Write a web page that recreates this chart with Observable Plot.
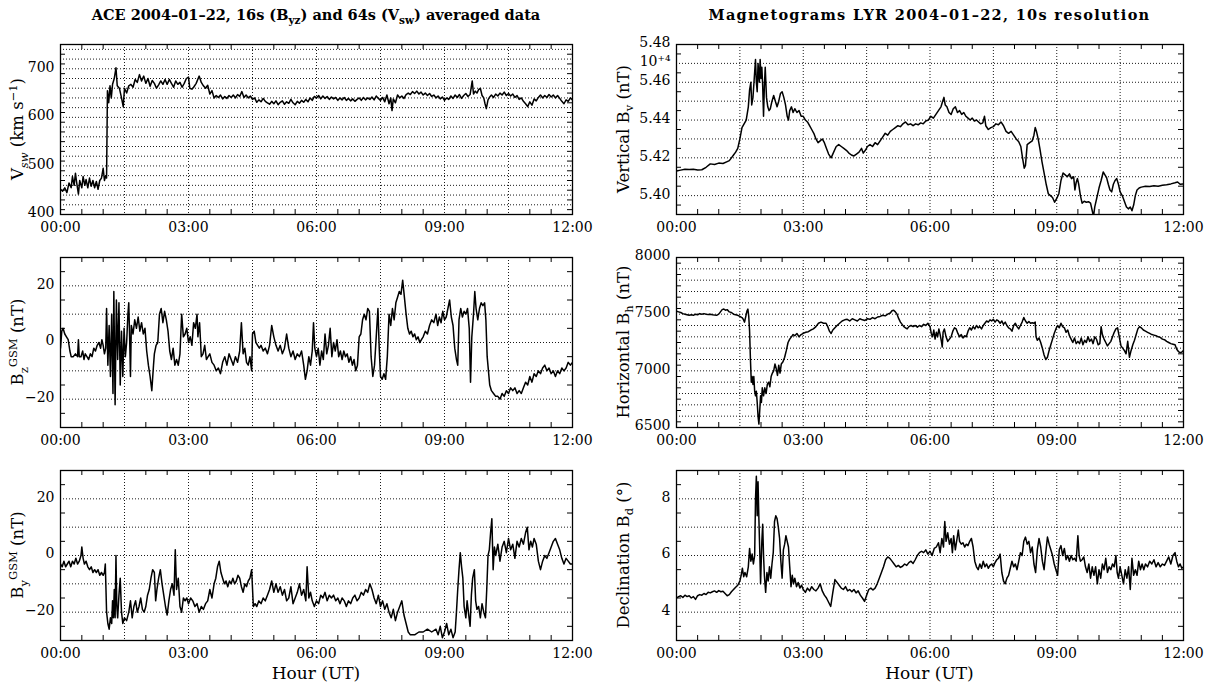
<!DOCTYPE html>
<html><head><meta charset="utf-8">
<script src="https://cdn.jsdelivr.net/npm/d3@7"></script>
<script src="https://cdn.jsdelivr.net/npm/@observablehq/plot@0.6"></script>
<style>
body{margin:0;background:#fff;}
#wrap{position:relative;width:1208px;height:686px;font-family:"DejaVu Serif",serif;color:#000;overflow:hidden;}
.title{position:absolute;top:6px;font-weight:bold;font-size:14.5px;white-space:nowrap;transform:translateX(-50%);}
.title sub{font-size:10.5px;}
.ylab{position:absolute;font-size:16.5px;white-space:nowrap;transform:translate(-50%,-50%) rotate(-90deg);line-height:1;}
.ylab sub,.ylab sup{font-size:11.5px;}
.xlab{position:absolute;font-size:17px;white-space:nowrap;transform:translateX(-50%);top:663px;}
.panel{position:absolute;}
</style></head>
<body>
<div id="wrap"></div>
<script>
// ---------------- data (hour UT, value) ----------------
const vsw = [[0,452],[0.05,448],[0.1,455],[0.15,445],[0.2,465],[0.25,455],[0.28,478],[0.32,460],[0.35,485],[0.38,465],[0.42,442],[0.45,470],[0.5,455],[0.53,478],[0.57,460],[0.6,472],[0.64,455],[0.68,475],[0.72,458],[0.76,470],[0.8,455],[0.84,468],[0.88,452],[0.92,470],[0.96,475],[1,495],[1.03,470],[1.06,480],[1.08,475],[1.1,655],[1.13,630],[1.16,665],[1.19,640],[1.22,668],[1.26,680],[1.3,702],[1.33,665],[1.38,660],[1.43,640],[1.47,622],[1.5,660],[1.55,650],[1.6,665],[1.65,668],[1.7,662],[1.75,678],[1.8,672],[1.85,688],[1.9,675],[1.95,685],[2,670],[2.05,680],[2.1,664],[2.15,676],[2.2,670],[2.25,660],[2.3,667],[2.35,675],[2.4,668],[2.45,678],[2.5,668],[2.55,678],[2.6,670],[2.65,662],[2.7,675],[2.75,668],[2.8,672],[2.85,662],[2.9,670],[2.95,680],[3,683],[3.03,660],[3.08,658],[3.12,662],[3.18,670],[3.25,685],[3.3,672],[3.35,665],[3.4,660],[3.45,666],[3.5,648],[3.55,655],
[3.6,640],[3.65,645],[3.7,641],[3.75,646],[3.8,638],[3.85,643],[3.9,639],[3.95,645],[4,641],[4.05,646],[4.1,640],[4.15,647],[4.2,643],[4.25,653],[4.3,641],[4.35,646],[4.4,640],[4.45,644],[4.5,637],[4.55,640],[4.6,631],[4.65,636],[4.7,632],[4.75,639],[4.8,633],[4.85,630],[4.9,627],[4.95,633],[5,628],[5.05,634],[5.1,626],[5.15,631],[5.2,634],[5.25,627],[5.3,632],[5.35,629],[5.4,637],[5.45,630],[5.5,626],[5.55,633],[5.6,629],[5.65,635],[5.7,631],[5.75,637],[5.8,632],[5.85,640],[5.9,635],[5.95,643],[6,640],[6.05,645],[6.1,638],[6.15,644],[6.2,639],[6.25,643],[6.3,637],[6.35,642],[6.4,638],[6.45,641],[6.5,635],[6.55,640],[6.6,636],[6.65,641],[6.7,635],[6.75,639],[6.8,634],[6.85,638],[6.9,633],[6.95,637],[7,640],[7.05,635],[7.1,641],[7.15,636],[7.2,640],[7.25,637],[7.3,642],[7.35,636],[7.4,644],[7.45,639],[7.5,635],[7.55,641],[7.6,632],[7.65,646],[7.7,628],[7.74,640],[7.77,614],[7.8,638],[7.85,630],[7.9,646],[7.95,640],[8,644],[8.05,639],[8.1,647],[8.15,650],[8.2,647],[8.25,653],[8.3,649],[8.35,654],[8.4,648],[8.45,652],[8.5,646],[8.55,650],[8.6,645],[8.65,649],[8.7,643],[8.75,646],[8.8,640],[8.85,644],[8.9,638],[8.95,642],[9,635],[9.05,640],[9.1,637],[9.15,644],[9.2,639],[9.25,646],[9.3,641],[9.35,647],[9.4,639],[9.45,645],[9.5,649],[9.55,643],[9.6,647],[9.65,675],[9.68,648],[9.72,654],[9.76,650],[9.8,657],[9.84,660],[9.88,645],[9.92,640],[9.95,628],[9.98,618],[10.02,636],[10.06,642],[10.1,646],[10.15,641],[10.2,648],[10.25,644],[10.3,650],[10.35,646],[10.4,652],[10.45,645],[10.5,649],[10.55,644],[10.6,648],[10.65,641],[10.7,645],[10.75,637],[10.8,640],[10.85,633],[10.9,628],[10.95,622],[11,632],[11.05,625],[11.1,638],[11.15,634],[11.2,641],[11.25,646],[11.3,640],[11.35,645],[11.4,641],[11.45,647],[11.5,642],[11.55,646],[11.6,640],[11.65,645],[11.7,639],[11.75,633],[11.8,628],[11.85,636],[11.9,633],[11.95,640],[12,636]];

const bz = [[0,-2],[0.03,4],[0.06,5],[0.1,3],[0.14,2],[0.18,1],[0.22,-3],[0.25,-5],[0.3,-5],[0.35,-4],[0.4,-5],[0.42,1],[0.44,-5],[0.48,-5],[0.52,-3],[0.55,-6],[0.58,-4],[0.62,-5],[0.66,-6],[0.7,-4],[0.74,-5],[0.78,-2],[0.82,-3],[0.86,-1],[0.9,0],[0.94,-2],[0.97,1],[1,-1],[1.03,-4],[1.06,-2],[1.08,12],[1.11,-8],[1.14,6],[1.17,-12],[1.2,10],[1.23,-18],[1.25,18],[1.28,-22],[1.31,15],[1.34,-6],[1.37,14],[1.4,-15],[1.43,4],[1.46,-12],[1.49,5],[1.52,-5],[1.55,0],[1.58,10],[1.6,14],[1.62,2],[1.64,-12],[1.66,6],[1.7,3],[1.74,8],[1.78,5],[1.82,9],[1.86,4],[1.9,7],[1.94,3],[1.98,5],[2.02,-3],[2.06,-8],[2.1,-12],[2.14,-17],[2.18,-8],[2.2,-4],[2.24,-1],[2.28,0],[2.32,10],[2.36,12],[2.4,7],[2.44,11],[2.48,8],[2.52,4],[2.56,-3],[2.6,-6],[2.64,-2],[2.68,-8],[2.72,-6],[2.76,-8],[2.8,-4],[2.84,10],[2.88,2],[2.92,3],[2.96,5],[3,0],[3.04,2],[3.08,-1],[3.12,7],[3.16,5],[3.2,10],[3.22,2],[3.26,7],[3.3,-5],[3.34,-4],[3.38,-1],[3.42,-6],[3.46,-5],[3.5,-4],[3.55,-7],[3.6,-8],[3.65,-10],[3.7,-9],[3.75,-11],[3.8,-7],[3.85,-5],[3.9,-8],[3.95,-4],[4,-6],[4.05,-8],[4.1,-5],[4.15,-7],[4.2,-3],[4.24,7],[4.28,-4],[4.32,-2],[4.36,-7],[4.4,-8],[4.44,-5],[4.48,-10],[4.5,3],[4.54,4],[4.58,0],[4.62,-1],[4.66,-2],[4.7,-1],[4.75,-3],[4.8,-2],[4.85,-4],[4.9,-1],[4.95,6],[5,2],[5.05,-1],[5.1,-3],[5.15,-1],[5.2,-4],[5.25,-2],[5.3,3],[5.35,-2],[5.4,-5],[5.45,-3],[5.5,-6],[5.55,-4],[5.6,-5],[5.65,-3],[5.7,-8],[5.74,-13],[5.78,-10],[5.82,-5],[5.86,-8],[5.9,-3],[5.93,7],[5.96,-2],[6,-5],[6.04,-2],[6.08,-8],[6.12,-3],[6.16,-6],[6.2,3],[6.24,-4],[6.28,-1],[6.32,5],[6.36,-5],[6.4,0],[6.44,-3],[6.48,1],[6.52,-5],[6.56,-3],[6.6,-6],[6.64,-3],[6.68,-5],[6.72,-4],[6.76,-7],[6.8,-5],[6.84,-8],[6.88,-6],[6.92,-10],[6.96,-8],[7,2],[7.04,3],[7.08,8],[7.12,10],[7.16,8],[7.2,12],[7.24,11],[7.28,-5],[7.32,-12],[7.36,-8],[7.4,2],[7.44,12],[7.47,-2],[7.5,-12],[7.54,-13],[7.58,-11],[7.62,-13],[7.66,-5],[7.7,10],[7.74,6],[7.78,12],[7.82,8],[7.86,14],[7.9,16],[7.94,18],[7.98,17],[8.02,22],[8.06,16],[8.1,10],[8.14,5],[8.18,3],[8.22,4],[8.26,2],[8.3,3],[8.34,1],[8.38,2],[8.42,0],[8.46,1],[8.5,2],[8.55,4],[8.6,3],[8.65,6],[8.7,8],[8.75,7],[8.8,10],[8.84,6],[8.88,9],[8.92,7],[8.96,11],[9,8],[9.04,9],[9.08,12],[9.12,15],[9.16,9],[9.2,6],[9.24,-2],[9.28,-6],[9.31,-8],[9.34,8],[9.38,12],[9.42,9],[9.46,11],[9.5,10],[9.54,12],[9.58,5],[9.61,-14],[9.64,2],[9.68,10],[9.71,18],[9.74,12],[9.78,8],[9.82,12],[9.86,14],[9.9,13],[9.94,14],[9.97,8],[10,-5],[10.03,-10],[10.06,-15],[10.1,-17],[10.15,-18],[10.2,-19],[10.25,-19],[10.3,-20],[10.35,-18],[10.4,-19],[10.45,-17],[10.5,-18],[10.55,-16],[10.6,-17],[10.65,-16],[10.7,-18],[10.75,-17],[10.8,-18],[10.85,-16],[10.9,-14],[10.95,-15],[11,-12],[11.05,-14],[11.1,-11],[11.15,-12],[11.2,-10],[11.25,-11],[11.3,-9],[11.35,-8],[11.4,-10],[11.45,-9],[11.5,-11],[11.55,-10],[11.6,-12],[11.65,-10],[11.7,-11],[11.75,-9],[11.8,-10],[11.85,-9],[11.9,-7],[11.95,-8],[12,-7]];

const by = [[0,-3],[0.04,-4],[0.08,-2],[0.12,-4],[0.16,-3],[0.2,-2],[0.24,-4],[0.28,-2],[0.32,-3],[0.36,-1],[0.4,-3],[0.44,-2],[0.48,0],[0.5,3],[0.53,-1],[0.56,-3],[0.6,-2],[0.64,-4],[0.68,-5],[0.72,-4],[0.76,-6],[0.8,-5],[0.84,-6],[0.88,-5],[0.92,-7],[0.96,-6],[1,-7],[1.03,-6],[1.05,-3],[1.08,-20],[1.11,-24],[1.14,-26],[1.17,-22],[1.2,-24],[1.22,-16],[1.24,-22],[1.26,-12],[1.28,-22],[1.3,0],[1.32,-18],[1.34,-22],[1.37,-14],[1.4,-8],[1.43,-20],[1.46,-24],[1.5,-22],[1.55,-23],[1.6,-20],[1.64,-16],[1.68,-22],[1.72,-18],[1.76,-16],[1.8,-20],[1.84,-18],[1.88,-15],[1.92,-19],[1.96,-20],[2,-18],[2.04,-14],[2.08,-12],[2.12,-8],[2.16,-5],[2.2,-6],[2.23,-16],[2.26,-12],[2.3,-8],[2.34,-5],[2.38,-10],[2.42,-14],[2.46,-18],[2.5,-21],[2.54,-16],[2.58,-12],[2.62,-10],[2.66,-14],[2.69,2],[2.72,-12],[2.76,-8],[2.8,-18],[2.84,-20],[2.88,-15],[2.92,-16],[2.96,-15],[3,-17],[3.05,-15],[3.1,-16],[3.15,-18],[3.2,-17],[3.25,-20],[3.3,-18],[3.35,-19],[3.4,-17],[3.45,-16],[3.5,-12],[3.55,-15],[3.6,-10],[3.64,-8],[3.68,-4],[3.72,-2],[3.76,-6],[3.8,-8],[3.84,-10],[3.88,-9],[3.92,-11],[3.96,-9],[4,-10],[4.04,-8],[4.08,-10],[4.12,-9],[4.16,-7],[4.2,-8],[4.24,-11],[4.28,-13],[4.32,-10],[4.36,-11],[4.4,-9],[4.44,-8],[4.48,-5],[4.52,-18],[4.56,-17],[4.6,-18],[4.65,-16],[4.7,-17],[4.75,-15],[4.8,-16],[4.85,-14],[4.9,-12],[4.95,-9],[5,-13],[5.05,-10],[5.1,-13],[5.15,-11],[5.2,-14],[5.25,-12],[5.3,-16],[5.35,-15],[5.4,-11],[5.45,-17],[5.5,-15],[5.55,-13],[5.6,-10],[5.65,-14],[5.7,-12],[5.75,-16],[5.78,-4],[5.82,-15],[5.86,-13],[5.9,-16],[5.95,-18],[6,-16],[6.05,-17],[6.1,-14],[6.15,-15],[6.2,-13],[6.25,-16],[6.3,-14],[6.35,-15],[6.4,-14],[6.45,-16],[6.5,-15],[6.55,-17],[6.6,-15],[6.65,-16],[6.7,-18],[6.75,-16],[6.8,-17],[6.85,-15],[6.9,-14],[6.95,-16],[7,-15],[7.05,-13],[7.1,-14],[7.15,-12],[7.2,-13],[7.25,-10],[7.3,-12],[7.35,-15],[7.4,-17],[7.45,-14],[7.5,-18],[7.55,-16],[7.6,-19],[7.65,-17],[7.7,-20],[7.75,-22],[7.8,-19],[7.85,-23],[7.9,-20],[7.95,-18],[8,-16],[8.05,-21],[8.1,-24],[8.15,-27],[8.2,-28],[8.3,-28],[8.4,-27],[8.5,-27],[8.6,-26],[8.7,-27],[8.8,-26],[8.85,-28],[8.9,-25],[8.95,-29],[9,-27],[9.05,-24],[9.1,-28],[9.15,-26],[9.2,-29],[9.25,-27],[9.28,-20],[9.31,-12],[9.34,-5],[9.37,1],[9.4,-4],[9.43,-8],[9.46,-18],[9.5,-22],[9.53,-16],[9.56,-20],[9.6,-25],[9.63,-14],[9.66,-8],[9.7,-5],[9.73,-16],[9.76,-19],[9.8,-18],[9.84,-22],[9.88,-17],[9.92,-20],[9.96,-22],[9.99,-12],[10.02,0],[10.05,2],[10.08,8],[10.11,13],[10.14,-5],[10.17,3],[10.2,0],[10.25,4],[10.3,-2],[10.35,3],[10.4,5],[10.45,1],[10.5,6],[10.55,2],[10.6,4],[10.65,-1],[10.7,5],[10.75,3],[10.8,6],[10.85,4],[10.9,8],[10.94,10],[10.98,2],[11.02,5],[11.06,3],[11.1,6],[11.15,4],[11.2,-2],[11.25,-5],[11.3,-2],[11.35,0],[11.4,-1],[11.45,1],[11.5,3],[11.55,5],[11.6,6],[11.65,4],[11.7,2],[11.75,-1],[11.8,-3],[11.85,-1],[11.9,-2],[11.95,-3],[12,-3]];

const bv = [[0,54130],[0.1,54135],[0.2,54140],[0.3,54138],[0.4,54140],[0.5,54136],[0.6,54137],[0.7,54150],[0.8,54168],[0.9,54165],[1,54172],[1.1,54170],[1.2,54180],[1.25,54185],[1.3,54200],[1.35,54215],[1.4,54230],[1.45,54250],[1.5,54300],[1.55,54360],[1.6,54380],[1.65,54400],[1.7,54470],[1.73,54560],[1.76,54600],[1.78,54480],[1.81,54520],[1.84,54620],[1.87,54720],[1.89,54600],[1.91,54550],[1.93,54700],[1.96,54600],[1.98,54720],[2,54620],[2.02,54680],[2.04,54580],[2.06,54420],[2.08,54580],[2.1,54680],[2.13,54520],[2.16,54470],[2.19,54450],[2.22,54460],[2.26,54500],[2.3,54530],[2.34,54500],[2.38,54470],[2.42,54500],[2.46,54540],[2.5,54550],[2.54,54520],[2.58,54480],[2.62,54420],[2.65,54400],[2.68,54450],[2.72,54470],[2.76,54440],[2.8,54460],[2.85,54440],[2.9,54450],[2.95,54420],[3,54420],[3.05,54400],[3.1,54390],[3.15,54370],[3.2,54350],[3.25,54330],[3.3,54300],[3.35,54280],[3.4,54290],[3.45,54300],[3.5,54280],[3.55,54250],[3.6,54220],[3.66,54200],[3.72,54230],[3.78,54260],[3.84,54270],[3.9,54260],[3.96,54250],[4.02,54240],[4.08,54225],[4.14,54215],[4.2,54210],[4.26,54220],[4.32,54230],[4.38,54250],[4.42,54225],[4.47,54240],[4.52,54260],[4.58,54270],[4.64,54260],[4.7,54280],[4.76,54270],[4.82,54290],[4.88,54310],[4.94,54330],[5,54320],[5.06,54340],[5.12,54350],[5.18,54360],[5.24,54370],[5.3,54365],[5.36,54380],[5.42,54390],[5.48,54375],[5.54,54380],[5.6,54370],[5.66,54380],[5.72,54375],[5.78,54385],[5.84,54380],[5.9,54395],[5.96,54400],[6.02,54420],[6.08,54410],[6.14,54430],[6.2,54450],[6.26,54470],[6.3,54500],[6.33,54520],[6.36,54480],[6.4,54470],[6.45,54440],[6.5,54430],[6.55,54460],[6.6,54470],[6.65,54440],[6.7,54450],[6.75,54430],[6.8,54440],[6.85,54420],[6.9,54410],[6.95,54400],[7,54410],[7.05,54395],[7.1,54400],[7.15,54390],[7.2,54380],[7.25,54385],[7.29,54420],[7.32,54370],[7.38,54350],[7.44,54360],[7.5,54365],[7.56,54380],[7.62,54375],[7.68,54390],[7.74,54370],[7.8,54340],[7.86,54330],[7.92,54340],[7.98,54320],[8.04,54300],[8.1,54285],[8.15,54260],[8.19,54200],[8.23,54145],[8.26,54160],[8.3,54270],[8.36,54280],[8.42,54290],[8.46,54320],[8.49,54360],[8.52,54340],[8.56,54300],[8.6,54250],[8.65,54180],[8.7,54120],[8.75,54060],[8.8,54010],[8.85,54000],[8.9,53990],[8.95,53965],[9,53985],[9.05,54010],[9.1,54080],[9.15,54120],[9.2,54110],[9.25,54100],[9.3,54115],[9.35,54090],[9.4,54100],[9.43,54030],[9.46,54070],[9.49,54090],[9.52,54060],[9.56,54000],[9.6,53960],[9.65,53970],[9.7,53965],[9.75,53968],[9.8,53960],[9.84,53920],[9.87,53890],[9.9,53940],[9.95,53990],[10,54040],[10.05,54080],[10.1,54125],[10.14,54110],[10.18,54095],[10.22,54060],[10.26,54030],[10.3,54020],[10.34,54060],[10.38,54080],[10.42,54090],[10.46,54060],[10.5,54020],[10.55,54000],[10.6,53970],[10.65,53940],[10.7,53930],[10.74,53940],[10.78,53920],[10.82,53950],[10.86,54000],[10.9,54030],[10.95,54040],[11,54045],[11.1,54050],[11.2,54048],[11.3,54052],[11.4,54050],[11.5,54055],[11.6,54058],[11.7,54062],[11.8,54068],[11.86,54072],[11.92,54060],[12,54062]];

const bh = [[0,7525],[0.05,7520],[0.1,7515],[0.15,7505],[0.2,7500],[0.25,7495],[0.3,7490],[0.35,7495],[0.4,7490],[0.45,7500],[0.5,7495],[0.55,7505],[0.6,7500],[0.65,7505],[0.7,7500],[0.75,7498],[0.8,7500],[0.85,7495],[0.9,7492],[0.95,7490],[1,7500],[1.04,7520],[1.08,7540],[1.12,7545],[1.16,7535],[1.2,7540],[1.25,7520],[1.3,7515],[1.35,7500],[1.4,7495],[1.45,7490],[1.5,7480],[1.55,7470],[1.58,7455],[1.61,7430],[1.64,7480],[1.67,7530],[1.69,7545],[1.71,7480],[1.73,7350],[1.75,7100],[1.77,6900],[1.79,6950],[1.81,6880],[1.83,6950],[1.85,6820],[1.87,6780],[1.89,6820],[1.91,6720],[1.93,6600],[1.95,6530],[1.97,6650],[1.99,6780],[2.01,6720],[2.03,6850],[2.06,6780],[2.09,6850],[2.12,6800],[2.15,6880],[2.18,6900],[2.21,6860],[2.24,6950],[2.27,6980],[2.3,7000],[2.33,7060],[2.36,7020],[2.39,6960],[2.42,7050],[2.45,6980],[2.48,7060],[2.52,7080],[2.56,7120],[2.6,7180],[2.64,7250],[2.68,7280],[2.72,7300],[2.76,7320],[2.8,7310],[2.85,7330],[2.9,7300],[2.95,7320],[3,7330],[3.06,7340],[3.12,7345],[3.18,7360],[3.24,7370],[3.3,7390],[3.36,7420],[3.42,7430],[3.48,7420],[3.54,7420],[3.58,7390],[3.62,7350],[3.66,7330],[3.7,7360],[3.75,7380],[3.8,7400],[3.86,7420],[3.92,7440],[3.98,7450],[4.04,7455],[4.1,7440],[4.16,7460],[4.22,7450],[4.28,7440],[4.34,7460],[4.4,7450],[4.46,7445],[4.52,7460],[4.58,7455],[4.64,7470],[4.7,7460],[4.76,7475],[4.82,7480],[4.88,7490],[4.94,7485],[5,7500],[5.06,7510],[5.1,7530],[5.14,7535],[5.18,7520],[5.22,7500],[5.26,7460],[5.3,7430],[5.34,7410],[5.38,7390],[5.42,7380],[5.46,7370],[5.5,7390],[5.55,7400],[5.6,7390],[5.65,7400],[5.7,7385],[5.75,7400],[5.8,7390],[5.85,7410],[5.9,7400],[5.95,7420],[6,7390],[6.03,7330],[6.06,7300],[6.09,7360],[6.12,7280],[6.15,7340],[6.18,7300],[6.21,7370],[6.24,7320],[6.27,7260],[6.29,7210],[6.31,7340],[6.34,7370],[6.38,7300],[6.42,7260],[6.46,7280],[6.5,7300],[6.54,7350],[6.58,7380],[6.62,7370],[6.66,7330],[6.7,7300],[6.74,7320],[6.78,7290],[6.82,7310],[6.86,7300],[6.9,7350],[6.94,7380],[6.98,7360],[7.02,7390],[7.06,7370],[7.1,7400],[7.14,7380],[7.18,7390],[7.22,7370],[7.26,7400],[7.3,7420],[7.34,7440],[7.38,7430],[7.42,7450],[7.46,7440],[7.5,7455],[7.54,7430],[7.58,7450],[7.62,7440],[7.66,7420],[7.7,7440],[7.74,7410],[7.78,7430],[7.82,7400],[7.86,7380],[7.9,7370],[7.94,7350],[7.98,7400],[8.02,7420],[8.06,7390],[8.1,7370],[8.14,7400],[8.18,7430],[8.22,7470],[8.26,7440],[8.3,7420],[8.34,7435],[8.38,7420],[8.42,7425],[8.46,7420],[8.49,7430],[8.51,7300],[8.54,7270],[8.58,7290],[8.62,7250],[8.66,7200],[8.7,7140],[8.74,7100],[8.78,7120],[8.82,7180],[8.86,7230],[8.9,7280],[8.94,7330],[8.98,7370],[9.02,7400],[9.06,7380],[9.1,7420],[9.14,7390],[9.18,7380],[9.22,7340],[9.26,7360],[9.3,7310],[9.34,7280],[9.38,7250],[9.42,7290],[9.46,7240],[9.5,7260],[9.54,7240],[9.58,7290],[9.62,7230],[9.66,7270],[9.7,7250],[9.74,7300],[9.78,7260],[9.82,7280],[9.86,7240],[9.9,7300],[9.94,7280],[9.98,7230],[10.02,7240],[10.05,7390],[10.08,7320],[10.12,7280],[10.16,7250],[10.2,7220],[10.24,7240],[10.28,7260],[10.32,7300],[10.36,7340],[10.4,7370],[10.44,7380],[10.48,7300],[10.52,7220],[10.56,7200],[10.6,7180],[10.64,7150],[10.68,7260],[10.72,7120],[10.76,7180],[10.8,7230],[10.84,7270],[10.88,7320],[10.92,7370],[10.96,7390],[11,7380],[11.05,7360],[11.1,7350],[11.15,7340],[11.2,7330],[11.25,7320],[11.3,7315],[11.35,7310],[11.4,7300],[11.45,7295],[11.5,7280],[11.55,7275],[11.6,7260],[11.65,7250],[11.7,7240],[11.75,7235],[11.8,7230],[11.84,7190],[11.88,7170],[11.92,7160],[11.96,7165],[12,7180]];

const bd = [[0,4.5],[0.05,4.55],[0.1,4.58],[0.15,4.52],[0.2,4.6],[0.25,4.55],[0.3,4.58],[0.35,4.5],[0.4,4.55],[0.45,4.45],[0.5,4.58],[0.55,4.62],[0.6,4.6],[0.65,4.66],[0.7,4.62],[0.75,4.7],[0.8,4.68],[0.85,4.72],[0.9,4.75],[0.95,4.7],[1,4.76],[1.05,4.72],[1.1,4.74],[1.15,4.66],[1.2,4.58],[1.25,4.62],[1.3,4.72],[1.35,4.8],[1.4,4.88],[1.45,4.95],[1.5,5.1],[1.53,5.3],[1.56,5.55],[1.59,5.25],[1.62,5.4],[1.66,5.25],[1.7,5.6],[1.73,6.25],[1.76,5.8],[1.79,6.05],[1.82,5.7],[1.85,6],[1.87,8],[1.89,8.8],[1.91,7.4],[1.93,8.6],[1.95,7.3],[1.97,6.2],[1.99,5],[2.02,6.5],[2.04,7.1],[2.06,6],[2.08,5.3],[2.11,4.7],[2.14,5.4],[2.17,5.1],[2.2,5.6],[2.23,5.2],[2.26,5.7],[2.29,6.1],[2.32,7.2],[2.35,7.4],[2.38,7.3],[2.41,7],[2.44,6.6],[2.47,5.8],[2.5,5.2],[2.53,6.2],[2.56,6.4],[2.59,6.7],[2.62,6.5],[2.65,6.3],[2.68,5.6],[2.71,4.9],[2.74,5.3],[2.77,5],[2.8,5.2],[2.84,4.9],[2.88,5.05],[2.92,4.85],[2.96,4.95],[3,4.8],[3.05,4.7],[3.1,4.85],[3.15,4.75],[3.2,4.9],[3.25,4.8],[3.3,4.75],[3.35,4.85],[3.4,5],[3.45,4.75],[3.5,4.6],[3.55,4.5],[3.6,4.35],[3.65,4.2],[3.7,4.7],[3.75,5.15],[3.8,5.05],[3.85,4.95],[3.9,4.85],[3.95,4.8],[4,4.9],[4.05,4.75],[4.1,4.8],[4.15,4.72],[4.2,4.8],[4.25,4.68],[4.3,4.75],[4.35,4.6],[4.4,4.5],[4.45,4.38],[4.5,4.6],[4.55,4.8],[4.6,4.85],[4.65,4.78],[4.7,4.85],[4.75,5],[4.8,5.2],[4.85,5.4],[4.9,5.6],[4.95,5.85],[5,5.95],[5.05,5.9],[5.1,5.8],[5.15,5.7],[5.2,5.6],[5.25,5.65],[5.3,5.58],[5.35,5.62],[5.4,5.7],[5.45,5.65],[5.5,5.75],[5.55,5.8],[5.6,5.72],[5.65,5.85],[5.7,6],[5.75,6.1],[5.8,6.15],[5.85,6.1],[5.9,6.2],[5.95,6.05],[6,6.15],[6.05,6],[6.1,6.25],[6.15,6.3],[6.2,6.45],[6.24,6.1],[6.28,6.6],[6.32,6.3],[6.35,7.2],[6.38,6.5],[6.42,6.8],[6.46,6.4],[6.5,6.6],[6.53,6.1],[6.56,6.7],[6.6,6.2],[6.64,6.6],[6.67,6.9],[6.7,6.5],[6.74,6.4],[6.78,6.45],[6.82,6.3],[6.86,6.4],[6.9,6.35],[6.94,6.5],[6.98,6.6],[7.02,6.3],[7.06,5.8],[7.1,5.6],[7.14,5.5],[7.18,5.7],[7.22,5.55],[7.26,5.8],[7.3,5.6],[7.34,5.7],[7.38,5.55],[7.42,5.65],[7.46,5.7],[7.5,5.6],[7.54,5.75],[7.58,5.85],[7.62,5.9],[7.66,6.05],[7.7,5.4],[7.74,5.1],[7.78,5],[7.82,5.2],[7.86,5.3],[7.9,5.55],[7.94,5.8],[7.98,5.6],[8.02,5.7],[8.06,5.5],[8.1,5.8],[8.14,6.1],[8.18,6],[8.22,6.5],[8.26,6.65],[8.3,6.4],[8.34,6.5],[8.38,6.1],[8.42,6.3],[8.46,5.7],[8.5,5.4],[8.54,6.2],[8.58,6.6],[8.62,6.3],[8.66,5.8],[8.7,5.5],[8.74,6.1],[8.78,6.65],[8.82,6.4],[8.86,6.2],[8.9,6],[8.94,5.7],[8.98,5.5],[9.02,5.3],[9.06,6.2],[9.1,6.35],[9.14,6],[9.18,6.25],[9.22,5.85],[9.26,6],[9.3,5.8],[9.34,6],[9.38,5.85],[9.42,5.9],[9.46,5.8],[9.5,6.7],[9.53,6],[9.56,5.8],[9.6,5.85],[9.64,5.95],[9.68,5.6],[9.72,5.4],[9.76,5.7],[9.8,5.2],[9.84,5.6],[9.88,5.3],[9.92,5.6],[9.96,5],[10,5.5],[10.04,5.2],[10.08,5.7],[10.12,5.5],[10.16,5.9],[10.2,5.4],[10.24,5.6],[10.28,5.5],[10.32,5.7],[10.36,5.6],[10.4,6],[10.43,5.4],[10.46,5.2],[10.5,5.6],[10.54,5.3],[10.58,5],[10.62,5.5],[10.66,5.2],[10.7,5.6],[10.74,4.8],[10.78,5.9],[10.82,5.3],[10.86,5.5],[10.9,5.3],[10.94,5.8],[10.98,5.5],[11.02,5.7],[11.06,5.5],[11.1,5.7],[11.15,5.6],[11.2,5.8],[11.25,5.7],[11.3,5.85],[11.35,5.6],[11.4,5.75],[11.45,5.6],[11.5,5.7],[11.55,5.65],[11.6,5.8],[11.65,5.95],[11.7,5.7],[11.75,6],[11.8,6.1],[11.84,5.8],[11.88,5.6],[11.92,5.7],[11.96,5.55],[12,5.6]];

// ---------------- axes: ticks, grids ----------------
const hourLabels = [0, 3, 6, 9, 12];
const hourGrid = [1.5, 3, 4.5, 6, 7.5, 9, 10.5];
const hourMinor = [0.5, 1, 2, 2.5, 3.5, 4, 5, 5.5, 6.5, 7, 8, 8.5, 9.5, 10, 11, 11.5];

const vswDomain = [400, 750], vswLabels = [400, 500, 600, 700];
const vswGrid = [420,440,460,480,500,520,540,560,580,600,620,640,660,680,700,720,740];
const vswMinor = [410,430,450,470,490,510,530,550,570,590,610,630,650,670,690,710,730];

const bDomain = [-30, 30], bLabels = [-20, 0, 20];
const bGrid = [-20, -10, 0, 10, 20];
const bMinor = [-25, -15, -5, 5, 15, 25];

const bvDomain = [53900, 54800];
const bvLabels = [54000, 54200, 54400, 54600, 54700, 54800];
const bvGrid = [54000,54100,54200,54300,54400,54500,54600,54700];
const bvMinor = [53950,54050,54150,54250,54350,54450,54550,54650,54750];

const bhDomain = [6500, 8000], bhLabels = [6500, 7000, 7500, 8000];
const bhGrid = [6600,6700,6800,6900,7000,7100,7200,7300,7400,7500,7600,7700,7800,7900];
const bhMinor = [6550,6650,6750,6850,6950,7050,7150,7250,7350,7450,7550,7650,7750,7850,7950];

const bdDomain = [3, 9], bdLabels = [4, 6, 8];
const bdGrid = [4, 5, 6, 7, 8];
const bdMinor = [3.5, 4.5, 5.5, 6.5, 7.5, 8.5];

// ---------------- layout ----------------
const wrap = document.getElementById("wrap");
const FH = 170;
const cols = [
  {left: 0, width: 590, mL: 60, mR: 18},
  {left: 600, width: 600, mL: 76, mR: 17}
];
const rowTops = [44, 257, 470];
const dots = "1,2";

function panel(col, row, data, domain, grid, minor, labels, fmt) {
  const c = cols[col];
  const FW = c.width - c.mL - c.mR;
  const p = Plot.plot({
    width: c.width, height: FH + 40,
    marginLeft: c.mL, marginRight: c.mR, marginTop: 10, marginBottom: 30,
    style: {fontFamily: "'DejaVu Serif', serif", fontSize: "14px", background: "transparent", color: "black", overflow: "visible"},
    x: {domain: [0, 12], axis: null},
    y: {domain, axis: null},
    marks: [
      Plot.gridY(grid, {stroke: "black", strokeOpacity: 0.9, strokeDasharray: dots, strokeWidth: 1}),
      Plot.gridX(hourGrid, {stroke: "black", strokeOpacity: 0.9, strokeDasharray: dots, strokeWidth: 1}),
      Plot.ruleX(hourMinor, {stroke: "black", strokeWidth: 1, insetTop: FH - 5}),
      Plot.ruleX(hourMinor, {stroke: "black", strokeWidth: 1, insetBottom: FH - 5}),
      Plot.ruleY(minor, {stroke: "black", strokeWidth: 1, insetRight: FW - 5}),
      Plot.ruleY(minor, {stroke: "black", strokeWidth: 1, insetLeft: FW - 5}),
      Plot.line(data, {x: d => d[0], y: d => d[1], stroke: "black", strokeWidth: 1.5, clip: true}),
      Plot.frame({stroke: "black", strokeWidth: 1.3}),
      Plot.axisX(hourLabels, {tickSize: 0, tickPadding: 8, tickFormat: h => String(h).padStart(2, "0") + ":00"}),
      Plot.axisY(labels, {tickSize: 0, tickPadding: 6, dy: -1.5, tickFormat: fmt})
    ]
  });
  p.classList.add("panel");
  p.style.left = c.left + "px";
  p.style.top = (rowTops[row] - 10) + "px";
  wrap.appendChild(p);
}

const intFmt = d => d < 0 ? "\u2212" + Math.abs(d) : String(d);
panel(0, 0, vsw, vswDomain, vswGrid, vswMinor, vswLabels, intFmt);
panel(0, 1, bz, bDomain, bGrid, bMinor, bLabels, intFmt);
panel(0, 2, by, bDomain, bGrid, bMinor, bLabels, intFmt);
panel(1, 0, bv, bvDomain, bvGrid, bvMinor, bvLabels, d => d === 54700 ? "10\u207A\u2074" : (d / 1e4).toFixed(2));
panel(1, 1, bh, bhDomain, bhGrid, bhMinor, bhLabels, intFmt);
panel(1, 2, bd, bdDomain, bdGrid, bdMinor, bdLabels, intFmt);

// ---------------- texts ----------------
function addText(cls, html, x, y, extra) {
  const d = document.createElement("div");
  d.className = cls; d.innerHTML = html;
  d.style.left = x + "px";
  if (y !== undefined) d.style.top = y + "px";
  if (extra) Object.assign(d.style, extra);
  wrap.appendChild(d);
}
const cxL = 60 + (590 - 60 - 18) / 2, cxR = 600 + 76 + (600 - 76 - 17) / 2;
addText("title", "ACE 2004\u201301\u201322, 16s (B<sub>yz</sub>) and 64s (V<sub>sw</sub>) averaged data", cxL);
addText("title", "Magnetograms LYR 2004\u201301\u201322, 10s resolution", cxR, undefined, {letterSpacing: "1.3px"});
const mid = r => rowTops[r] + FH / 2;
addText("ylab", "V<sub><i>sw</i></sub> (km s<sup>\u22121</sup>)", 19, mid(0));
addText("ylab", "B<sub>z</sub><sup>GSM</sup> (nT)", 19, mid(1));
addText("ylab", "B<sub>y</sub><sup>GSM</sup> (nT)", 19, mid(2));
addText("ylab", "Vertical B<sub>v</sub> (nT)", 626, mid(0));
addText("ylab", "Horizontal B<sub>h</sub> (nT)", 626, mid(1));
addText("ylab", "Declination B<sub>d</sub> (\u00B0)", 626, mid(2));
addText("xlab", "Hour (UT)", cxL);
addText("xlab", "Hour (UT)", cxR);
</script>
</body></html>
